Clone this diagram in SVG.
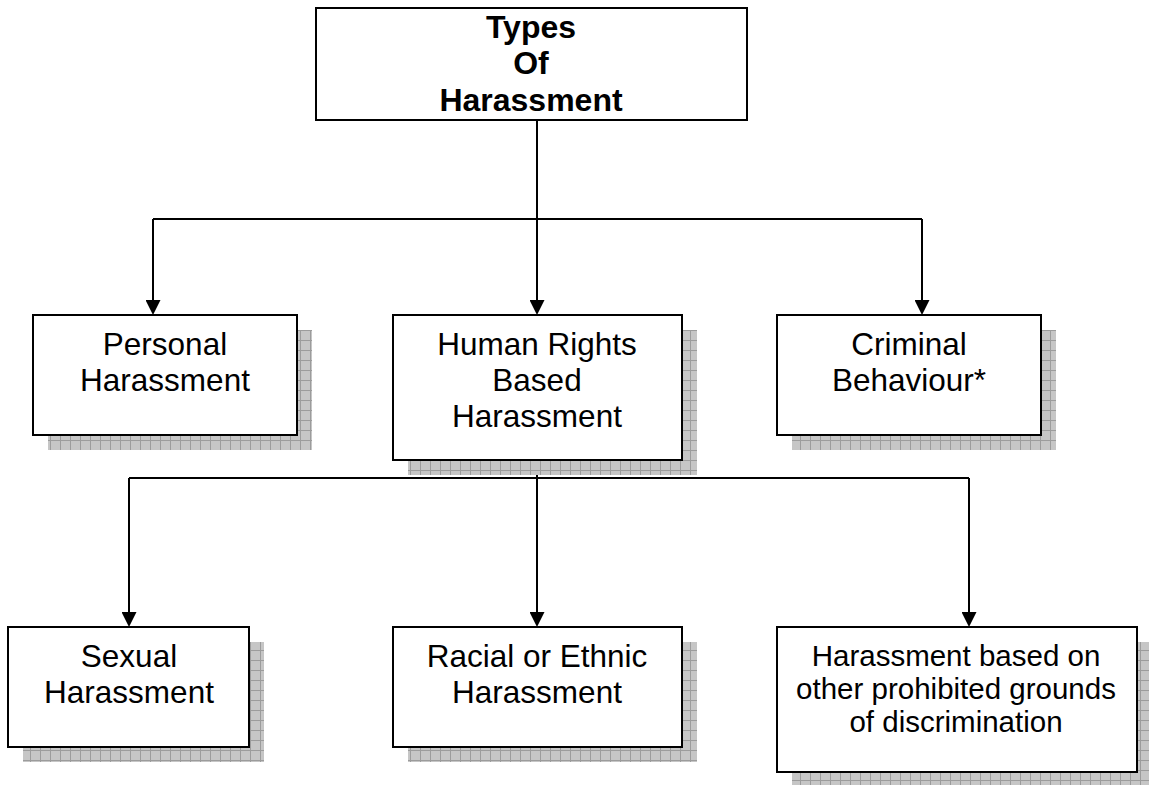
<svg xmlns="http://www.w3.org/2000/svg" width="1149" height="785" viewBox="0 0 1149 785">
  <defs>
    <pattern id="shadowGrid" patternUnits="userSpaceOnUse" width="10" height="10">
      <rect width="10" height="10" fill="#c6c6c6"/>
      <path d="M0,0.5 H10 M0.5,0 V10" stroke="#9c9c9c" stroke-width="1" fill="none"/>
    </pattern>
    <marker id="arrow" viewBox="0 0 15 15" refX="0" refY="7.5" markerWidth="15" markerHeight="15" markerUnits="userSpaceOnUse" orient="auto">
      <path d="M0,0 L15,7.5 L0,15 z" fill="#000"/>
    </marker>
  </defs>
  <style>
    .box { fill: #fff; stroke: #000; stroke-width: 2; }
    .shadow { fill: url(#shadowGrid); }
    .conn { fill: none; stroke: #000; stroke-width: 2; }
    .t { font-family: "Liberation Sans", Arial, sans-serif; font-size: 31.5px; fill: #000; text-anchor: middle; }
    .tb { font-family: "Liberation Sans", Arial, sans-serif; font-size: 32px; font-weight: bold; fill: #000; text-anchor: middle; }
    .ts { font-family: "Liberation Sans", Arial, sans-serif; font-size: 29.5px; fill: #000; text-anchor: middle; }
  </style>
  <rect width="1149" height="785" fill="#fff"/>

  <g id="connectors">
    <path class="conn" d="M537,120 V300"/>
    <path class="conn" d="M153,219 H922"/>
    <path class="conn" d="M153,219 V300" marker-end="url(#arrow)"/>
    <path class="conn" d="M537,219 V300" marker-end="url(#arrow)"/>
    <path class="conn" d="M922,219 V300" marker-end="url(#arrow)"/>
    <path class="conn" d="M537,460 V612" marker-end="url(#arrow)"/>
    <path class="conn" d="M129,478 H969"/>
    <path class="conn" d="M129,478 V612" marker-end="url(#arrow)"/>
    <path class="conn" d="M969,478 V612" marker-end="url(#arrow)"/>
  </g>

  <g id="node-types">
    <rect class="box" x="316" y="8" width="431" height="112"/>
    <text class="tb" x="531" y="38">Types</text>
    <text class="tb" x="531" y="74">Of</text>
    <text class="tb" x="531" y="111">Harassment</text>
  </g>

  <g id="node-personal">
    <rect class="shadow" x="48" y="330" width="264" height="120"/>
    <rect class="box" x="33" y="315" width="264" height="120"/>
    <text class="t" x="165" y="355">Personal</text>
    <text class="t" x="165" y="391">Harassment</text>
  </g>

  <g id="node-human-rights">
    <rect class="shadow" x="408" y="330" width="289" height="145"/>
    <rect class="box" x="393" y="315" width="289" height="145"/>
    <text class="t" x="537" y="355">Human Rights</text>
    <text class="t" x="537" y="391">Based</text>
    <text class="t" x="537" y="427">Harassment</text>
  </g>

  <g id="node-criminal">
    <rect class="shadow" x="792" y="330" width="264" height="120"/>
    <rect class="box" x="777" y="315" width="264" height="120"/>
    <text class="t" x="909" y="355">Criminal</text>
    <text class="t" x="909" y="391">Behaviour*</text>
  </g>

  <g id="node-sexual">
    <rect class="shadow" x="23" y="642" width="241" height="120"/>
    <rect class="box" x="8" y="627" width="241" height="120"/>
    <text class="t" x="129" y="667">Sexual</text>
    <text class="t" x="129" y="703">Harassment</text>
  </g>

  <g id="node-racial">
    <rect class="shadow" x="408" y="642" width="289" height="120"/>
    <rect class="box" x="393" y="627" width="289" height="120"/>
    <text class="t" x="537" y="667">Racial or Ethnic</text>
    <text class="t" x="537" y="703">Harassment</text>
  </g>

  <g id="node-other">
    <rect class="shadow" x="792" y="642" width="360" height="145"/>
    <rect class="box" x="777" y="627" width="360" height="145"/>
    <text class="ts" x="956" y="666">Harassment based on</text>
    <text class="ts" x="956" y="699">other prohibited grounds</text>
    <text class="ts" x="956" y="732">of discrimination</text>
  </g>
</svg>
